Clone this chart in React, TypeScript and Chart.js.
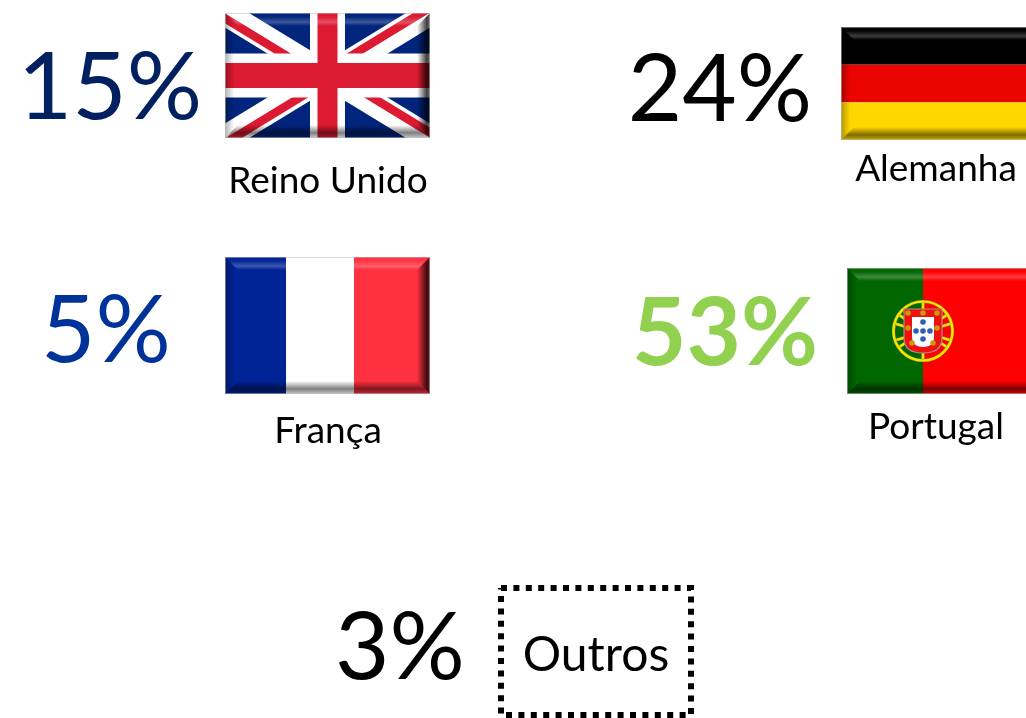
import React, { useEffect, useRef } from "react";
import { Chart, registerables } from "chart.js";

Chart.register(...registerables);

// ---- data ----
const countries = ["Reino Unido", "Alemanha", "França", "Portugal", "Outros"];
const shares = [15, 24, 5, 53, 3];

// ---- layout (page slots of the infographic, not data) ----
const FONT = "Lato, Carlito, Calibri, sans-serif";
const slots = [
  { pctX: 110, pctY: 119, pctSize: 94, pctColor: "#002060", bold: false, lblX: 328, lblY: 193, lblSize: 37, flag: "uk", rect: [225, 13, 205, 125] },
  { pctX: 720, pctY: 121, pctSize: 94, pctColor: "#000000", bold: false, lblX: 936, lblY: 181, lblSize: 37, flag: "de", rect: [841, 27, 215, 113] },
  { pctX: 106, pctY: 362, pctSize: 94, pctColor: "#003399", bold: false, lblX: 328, lblY: 443, lblSize: 37, flag: "fr", rect: [225, 257, 205, 137] },
  { pctX: 725, pctY: 365, pctSize: 94, pctColor: "#92D050", bold: true, lblX: 936, lblY: 439, lblSize: 37, flag: "pt", rect: [847, 268, 215, 126] },
  { pctX: 400, pctY: 679, pctSize: 94, pctColor: "#000000", bold: false, lblX: 596, lblY: 671, lblSize: 48, flag: "", rect: [] as number[] },
];
const boxX = [501, 691];
const boxY = [588, 715];

type Ctx = CanvasRenderingContext2D;

function bevel(c: Ctx, x: number, y: number, w: number, h: number, b = 13) {
  const side = (pts: number[][], x0: number, y0: number, x1: number, y1: number, stops: [number, string][]) => {
    const g = c.createLinearGradient(x0, y0, x1, y1);
    stops.forEach(([o, col]) => g.addColorStop(o, col));
    c.fillStyle = g;
    c.beginPath();
    pts.forEach((p, i) => (i ? c.lineTo(p[0], p[1]) : c.moveTo(p[0], p[1])));
    c.closePath();
    c.fill();
  };
  const r = x + w, d = y + h;
  // top: soft highlight band
  side([[x, y], [r, y], [r - b, y + b], [x + b, y + b]], 0, y, 0, y + b, [
    [0, "rgba(255,255,255,0)"], [0.3, "rgba(255,255,255,0.02)"], [0.7, "rgba(255,255,255,0.24)"], [1, "rgba(255,255,255,0)"],
  ]);
  // bottom: shadow band
  side([[x, d], [r, d], [r - b, d - b], [x + b, d - b]], 0, d - b, 0, d, [
    [0, "rgba(0,0,0,0)"], [0.6, "rgba(0,0,0,0.5)"], [1, "rgba(0,0,0,0.22)"],
  ]);
  // left: mild shadow
  side([[x, y], [x, d], [x + b, d - b], [x + b, y + b]], x, 0, x + b * 0.7, 0, [
    [0, "rgba(0,0,0,0.3)"], [1, "rgba(0,0,0,0)"],
  ]);
  // right: strong shadow
  side([[r, y], [r, d], [r - b, d - b], [r - b, y + b]], r - b, 0, r, 0, [
    [0, "rgba(0,0,0,0)"], [0.75, "rgba(0,0,0,0.75)"], [1, "rgba(0,0,0,0.6)"],
  ]);
  // pale rim
  c.strokeStyle = "rgba(190,190,190,0.55)";
  c.lineWidth = 1;
  c.strokeRect(x + 0.5, y + 0.5, w - 1, h - 1);
}

function flagUK(c: Ctx, x: number, y: number, w: number, h: number) {
  const cx = x + w / 2, cy = y + h / 2;
  c.fillStyle = "#01257D";
  c.fillRect(x, y, w, h);
  c.lineCap = "butt";
  c.strokeStyle = "#ffffff";
  c.lineWidth = 25;
  [[x, y, x + w, y + h], [x + w, y, x, y + h]].forEach(([a, b, e, f]) => {
    c.beginPath(); c.moveTo(a, b); c.lineTo(e, f); c.stroke();
  });
  const nx = h / Math.hypot(w, h), ny = w / Math.hypot(w, h);
  const off = 4.5;
  const arms: [number, number, number, number][] = [
    [x, y, -nx * off, ny * off],          // top-left: below its diagonal
    [x + w, y, -nx * off, -ny * off],     // top-right: above its diagonal
    [x + w, y + h, nx * off, -ny * off],  // bottom-right: above its diagonal
    [x, y + h, nx * off, ny * off],       // bottom-left: below its diagonal
  ];
  c.strokeStyle = "#DC1A32";
  c.lineWidth = 8.5;
  arms.forEach(([ex, ey, ox, oy]) => {
    c.save();
    c.beginPath();
    c.rect(Math.min(ex, cx), Math.min(ey, cy), w / 2, h / 2);
    c.clip();
    c.beginPath();
    c.moveTo(ex + ox, ey + oy);
    c.lineTo(cx + ox, cy + oy);
    c.stroke();
    c.restore();
  });
  c.fillStyle = "#ffffff";
  c.fillRect(cx - 17.5, y, 35, h);
  c.fillRect(x, cy - 22, w, 44);
  c.fillStyle = "#DC1A32";
  c.fillRect(cx - 10, y, 20, h);
  c.fillRect(x, cy - 12.5, w, 25);
}

function flagFR(c: Ctx, x: number, y: number, w: number, h: number) {
  c.fillStyle = "#002395"; c.fillRect(x, y, 61, h);
  c.fillStyle = "#ffffff"; c.fillRect(x + 61, y, 68, h);
  c.fillStyle = "#FF3040"; c.fillRect(x + 129, y, w - 129, h);
}

function flagDE(c: Ctx, x: number, y: number, w: number, h: number) {
  c.fillStyle = "#000000"; c.fillRect(x, y, w, h / 3);
  c.fillStyle = "#EB0500"; c.fillRect(x, y + h / 3, w, h / 3);
  c.fillStyle = "#FFD700"; c.fillRect(x, y + 2 * h / 3, w, h / 3 + 0.5);
}

function flagPT(c: Ctx, x: number, y: number, w: number, h: number) {
  const sx = 923, sy = 331;
  c.fillStyle = "#006600"; c.fillRect(x, y, sx - x, h);
  c.fillStyle = "#FF0000"; c.fillRect(sx, y, x + w - sx, h);
  // armillary sphere
  const ring = (draw: () => void) => {
    c.strokeStyle = "#9a9a10"; c.lineWidth = 3.2; c.beginPath(); draw(); c.stroke();
    c.strokeStyle = "#F5E800"; c.lineWidth = 2.2; c.beginPath(); draw(); c.stroke();
  };
  c.save();
  c.beginPath(); c.arc(sx, sy, 30, 0, Math.PI * 2); c.clip();
  ring(() => c.ellipse(sx, sy + 36, 34, 28, 0, Math.PI, Math.PI * 2));
  ring(() => c.ellipse(sx, sy - 36, 34, 28, 0, 0, Math.PI));
  ring(() => { c.moveTo(sx - 30, sy - 8); c.lineTo(sx + 30, sy + 10); });
  ring(() => { c.moveTo(sx + 30, sy - 8); c.lineTo(sx - 30, sy + 10); });
  ring(() => { c.moveTo(sx, sy - 30); c.lineTo(sx, sy + 30); });
  c.restore();
  ring(() => c.arc(sx, sy, 29.5, 0, Math.PI * 2));
  // shield
  const shield = (l: number, t: number, r: number, b: number, rad: number) => {
    c.beginPath();
    c.moveTo(l, t); c.lineTo(r, t); c.lineTo(r, b - rad);
    c.quadraticCurveTo(r, b, (l + r) / 2, b);
    c.quadraticCurveTo(l, b, l, b - rad);
    c.closePath();
  };
  shield(904, 309, 942, 353, 15);
  c.fillStyle = "#F01010"; c.fill();
  c.strokeStyle = "#B08A8A"; c.lineWidth = 1.2; c.stroke();
  shield(912, 317, 934, 347, 11);
  c.fillStyle = "#ffffff"; c.fill();
  c.fillStyle = "#2F5FB0";
  [[923, 322], [916, 331], [923, 331], [930, 331], [923, 339]].forEach(([a, b]) => {
    c.beginPath(); c.arc(a, b, 2.8, 0, Math.PI * 2); c.fill();
  });
  c.fillStyle = "#C79A10";
  [[908, 313], [923, 313], [937, 313], [908, 328], [937, 328], [912, 343], [933, 343]].forEach(([a, b]) => {
    c.beginPath(); c.arc(a, b, 2.8, 0, Math.PI * 2); c.fill();
  });
}

const flagPainters: Record<string, (c: Ctx, x: number, y: number, w: number, h: number) => void> = {
  uk: flagUK, fr: flagFR, de: flagDE, pt: flagPT,
};

const tilesPlugin = {
  id: "tiles",
  afterDatasetsDraw(chart: any) {
    const c: Ctx = chart.ctx;
    const sx = chart.scales.x, sy = chart.scales.y;
    c.save();
    slots.forEach((s, i) => {
      if (s.flag) {
        const x = sx.getPixelForValue(s.rect[0]);
        const y = sy.getPixelForValue(s.rect[1]);
        const w = s.rect[2], h = s.rect[3];
        c.save();
        c.beginPath(); c.rect(x, y, w, h); c.clip();
        c.filter = "blur(0.7px)";
        flagPainters[s.flag](c, x, y, w, h);
        bevel(c, x, y, w, h);
        c.filter = "none";
        c.restore();
      }
      c.textAlign = "center";
      c.textBaseline = "alphabetic";
      c.fillStyle = s.pctColor;
      c.font = `${s.bold ? "700" : "400"} ${s.pctSize}px ${FONT}`;
      c.fillText(`${shares[i]}%`, sx.getPixelForValue(s.pctX), sy.getPixelForValue(s.pctY));
      c.fillStyle = "#000000";
      c.font = `400 ${s.lblSize}px ${FONT}`;
      c.fillText(countries[i], sx.getPixelForValue(s.lblX), sy.getPixelForValue(s.lblY));
    });
    c.restore();
  },
};

export default function App() {
  const ref = useRef<HTMLCanvasElement>(null);
  useEffect(() => {
    document.body.style.margin = "0";
    const chart = new Chart(ref.current as HTMLCanvasElement, {
      type: "scatter",
      data: {
        datasets: [
          {
            label: countries[4],
            data: [
              { x: boxX[0], y: boxY[0] },
              { x: boxX[1], y: boxY[0] },
              { x: boxX[1], y: boxY[1] },
              { x: boxX[0], y: boxY[1] },
              { x: boxX[0], y: boxY[0] },
            ],
            showLine: true,
            borderColor: "#000000",
            borderWidth: 6,
            borderDash: [6, 6.4],
            pointRadius: 0,
            tension: 0,
            clip: false,
          },
        ],
      },
      options: {
        animation: false,
        responsive: false,
        layout: { padding: 0 },
        plugins: { legend: { display: false }, title: { display: false }, tooltip: { enabled: false } },
        scales: {
          x: { type: "linear", min: 0, max: 1026, display: false },
          y: { type: "linear", min: 0, max: 718, reverse: true, display: false },
        },
      },
      plugins: [tilesPlugin],
    } as any);
    return () => chart.destroy();
  }, []);
  return (
    <div style={{ position: "absolute", left: 0, top: 0, width: 1026, height: 718, background: "#fff", overflow: "hidden" }}>
      <canvas ref={ref} width={1026} height={718} style={{ display: "block" }} />
    </div>
  );
}
